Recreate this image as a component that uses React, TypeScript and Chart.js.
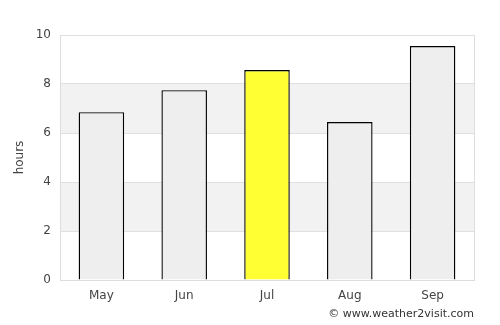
import React, { useEffect, useRef } from "react";
import { Chart, registerables } from "chart.js";

Chart.register(...registerables);

const months = ["May", "Jun", "Jul", "Aug", "Sep"];
const hours = [6.85, 7.75, 8.57, 6.45, 9.55];
const barColors = ["#eeeeee", "#eeeeee", "#ffff33", "#eeeeee", "#eeeeee"];
const yTicks = [0, 2, 4, 6, 8, 10];
const bands = [[2, 4], [6, 8]];
const credit = "© www.weather2visit.com";

const bgPlugin = {
  id: "bands",
  beforeDraw(chart: any) {
    const { ctx, chartArea, scales } = chart;
    const y = scales.y;
    ctx.save();
    ctx.fillStyle = "#f2f2f2";
    for (const [a, b] of bands) {
      const top = y.getPixelForValue(b);
      const bot = y.getPixelForValue(a);
      ctx.fillRect(chartArea.left, top, chartArea.right - chartArea.left, bot - top);
    }
    ctx.restore();
  },
  afterDraw(chart: any) {
    const { ctx, chartArea } = chart;
    ctx.save();
    ctx.strokeStyle = "#dddddd";
    ctx.lineWidth = 1;
    ctx.beginPath();
    ctx.moveTo(chartArea.right + 0.5, chartArea.top);
    ctx.lineTo(chartArea.right + 0.5, chartArea.bottom);
    ctx.stroke();
    ctx.font = "11px 'DejaVu Sans'";
    ctx.fillStyle = "#333333";
    ctx.textAlign = "right";
    ctx.textBaseline = "middle";
    ctx.fillText(credit, chartArea.right, 314);
    ctx.restore();
  },
};

export default function App() {
  const ref = useRef<HTMLCanvasElement>(null);
  useEffect(() => {
    document.body.style.margin = "0";
    const chart = new Chart(ref.current!, {
      type: "bar",
      data: {
        labels: months,
        datasets: [
          {
            data: hours,
            backgroundColor: barColors,
            borderColor: "#000000",
            borderWidth: 1.4,
            barPercentage: 0.55,
            categoryPercentage: 1,
          },
        ],
      },
      options: {
        animation: false,
        responsive: false,
        layout: { padding: { top: 35, right: 26, left: 13, bottom: 0 } },
        plugins: { legend: { display: false }, tooltip: { enabled: false } },
        scales: {
          x: {
            grid: { display: false, drawTicks: false },
            border: { color: "#dddddd" },
            ticks: { color: "#444444", font: { family: "'DejaVu Sans'", size: 12 }, padding: 9 },
            afterFit(s: any) { s.height = 45; },
          },
          y: {
            min: 0,
            max: 10,
            afterBuildTicks(s: any) { s.ticks = yTicks.map((v) => ({ value: v })); },
            grid: { color: "#e0e0e0", drawTicks: false },
            border: { color: "#dddddd" },
            ticks: { color: "#444444", font: { family: "'DejaVu Sans'", size: 12 }, padding: 9 },
            title: { display: true, text: "hours", color: "#444444", font: { family: "'DejaVu Sans'", size: 12 }, padding: 0 },
            afterFit(s: any) { s.width = 47; },
          },
        },
      },
      plugins: [bgPlugin],
    });
    return () => chart.destroy();
  }, []);
  return (
    <div style={{ width: 500, height: 325 }}>
      <canvas ref={ref} width={500} height={325} />
    </div>
  );
}
